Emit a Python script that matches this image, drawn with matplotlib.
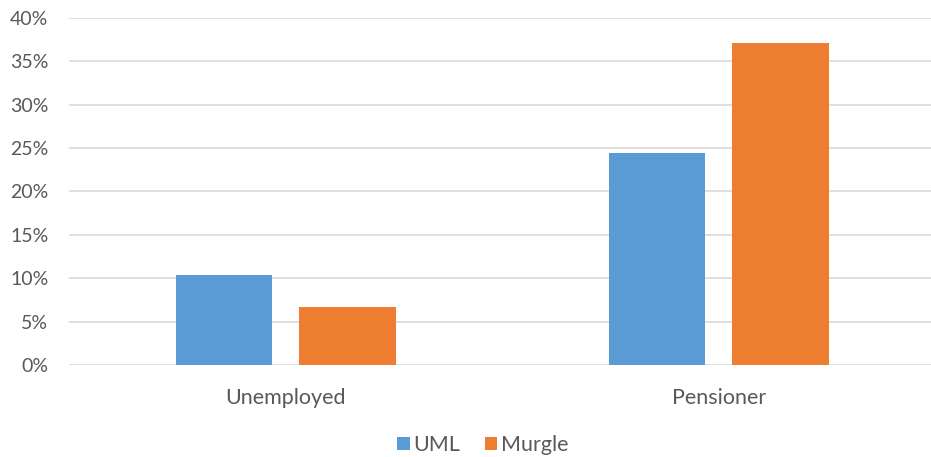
import matplotlib.pyplot as plt
from matplotlib.ticker import PercentFormatter
import numpy as np

categories = ["Unemployed", "Pensioner"]
uml = [10.4, 24.4]
murgle = [6.7, 37.1]
yticks = [0, 5, 10, 15, 20, 25, 30, 35, 40]

plt.rcParams['font.family'] = ['Lato', 'DejaVu Sans']
grey = '#595959'

fig = plt.figure(figsize=(9.31, 4.57), dpi=100)
ax = fig.add_axes([69.2 / 931, 0.2007, (935.2 - 69.2) / 931, 0.9613 - 0.2007])

x = np.arange(len(categories))
w = 0.2233
off = 0.1425
ax.bar(x - off, uml, width=w, color='#5B9BD5', label='UML', zorder=2)
ax.bar(x + off, murgle, width=w, color='#ED7D31', label='Murgle', zorder=2)

ax.set_xlim(-0.5, 1.5)
ax.set_ylim(0, 40)
ax.set_yticks(yticks)
ax.yaxis.set_major_formatter(PercentFormatter(decimals=0))
ax.set_xticks(x)
ax.set_xticklabels(categories)
ax.grid(axis='y', color='#d9d9d9', linewidth=1.2, zorder=0)
for s in ax.spines.values():
    s.set_visible(False)
ax.tick_params(axis='y', length=0, pad=15, labelsize=14, labelcolor=grey)
ax.tick_params(axis='x', length=0, pad=16, labelsize=15.5, labelcolor=grey)

fig.legend(loc='center', bbox_to_anchor=(482.5 / 931, 1 - 445 / 457), ncol=2,
           frameon=False, fontsize=15.5, labelcolor=grey, handlelength=0.6,
           handleheight=0.6, handletextpad=0.15, columnspacing=1.15)

fig.savefig('out.png', dpi=100)
